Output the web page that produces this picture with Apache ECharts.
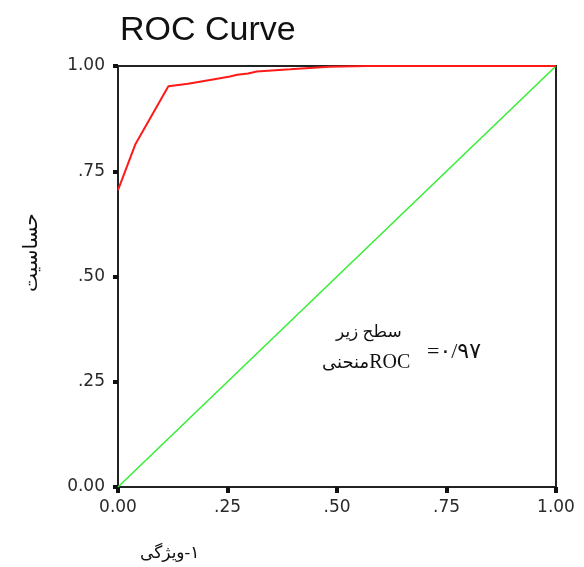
<!DOCTYPE html>
<html>
<head>
<meta charset="utf-8">
<script src="https://cdn.jsdelivr.net/npm/echarts@6/dist/echarts.min.js"></script>
<style>
  html, body { margin: 0; padding: 0; background: #fff; }
  #main { width: 584px; height: 567px; }
</style>
</head>
<body>
<div id="main"></div>
<script>
// ROC curve points [1 - specificity, sensitivity]
var rocX = [0, 0.04, 0.115, 0.16, 0.21, 0.256, 0.272, 0.297, 0.317, 0.393, 0.482, 0.568, 1];
var rocY = [0.705, 0.815, 0.952, 0.958, 0.967, 0.975, 0.979, 0.982, 0.987, 0.992, 0.998, 1, 1];
// reference diagonal
var diagX = [0, 1];
var diagY = [0, 1];
var tickLabels = ['0.00', '.25', '.50', '.75', '1.00'];

var dom = document.getElementById("main");
var myChart = echarts.init(dom);

function pairs(xs, ys) {
    return xs.map(function (x, i) { return [x, ys[i]]; });
}
function fmt(v) {
    return tickLabels[Math.round(v * 4)];
}

var labelFont = 'DejaVu Sans';
var faFont = "'Liberation Serif', 'DejaVu Sans', serif";

var option = {
    backgroundColor: '#ffffff',
    animation: false,
    title: {
        text: 'ROC Curve',
        left: 115,
        top: 9,
        textStyle: {
            fontFamily: 'Liberation Sans',
            fontSize: 34,
            fontWeight: 'normal',
            color: '#111'
        }
    },
    grid: {
        left: 118,
        right: 28,
        top: 66,
        bottom: 80,
        show: true,
        borderColor: '#222',
        borderWidth: 2
    },
    xAxis: {
        type: 'value',
        min: 0,
        max: 1,
        interval: 0.25,
        splitLine: { show: false },
        axisLine: { show: true, lineStyle: { color: '#222', width: 2 } },
        axisTick: { show: true, length: 6, lineStyle: { color: '#111', width: 4 } },
        axisLabel: {
            formatter: fmt,
            margin: 12,
            fontFamily: labelFont,
            fontSize: 17,
            color: '#2a2a2a'
        }
    },
    yAxis: {
        type: 'value',
        min: 0,
        max: 1,
        interval: 0.25,
        splitLine: { show: false },
        axisLine: { show: true, lineStyle: { color: '#222', width: 2 } },
        axisTick: { show: true, length: 5, lineStyle: { color: '#111', width: 4 } },
        axisLabel: {
            formatter: fmt,
            margin: 13,
            fontFamily: labelFont,
            fontSize: 17,
            color: '#2a2a2a'
        }
    },
    series: [
        {
            type: 'line',
            data: pairs(diagX, diagY),
            symbol: 'none',
            lineStyle: { color: '#33ee33', width: 1.5 }
        },
        {
            type: 'line',
            data: pairs(rocX, rocY),
            symbol: 'none',
            lineStyle: { color: '#ff1a1a', width: 2 }
        }
    ],
    graphic: [
        {
            type: 'text',
            left: 336, top: 324,
            style: { text: 'سطح زیر', font: '17px ' + faFont, fill: '#111' }
        },
        {
            type: 'text',
            left: 322, top: 353,
            style: {
                text: '{a|منحنی}{b|ROC}',
                rich: {
                    a: { fontFamily: faFont, fontSize: 18, fill: '#111' },
                    b: { fontFamily: 'Liberation Serif', fontSize: 20, fill: '#111' }
                }
            }
        },
        {
            type: 'text',
            left: 427, top: 341,
            style: { text: '=۰/۹۷', font: '22px ' + faFont, fill: '#111' }
        },
        {
            type: 'text',
            x: 22, y: 292,
            rotation: Math.PI / 2,
            style: { text: 'حساسیت', font: '20px ' + faFont, fill: '#111' }
        },
        {
            type: 'text',
            left: 140, top: 545,
            style: { text: 'ویژگی\u200E-۱', font: '17px ' + faFont, fill: '#111' }
        }
    ]
};

if (option && typeof option === "object") {
    myChart.setOption(option, true);
}
</script>
</body>
</html>
